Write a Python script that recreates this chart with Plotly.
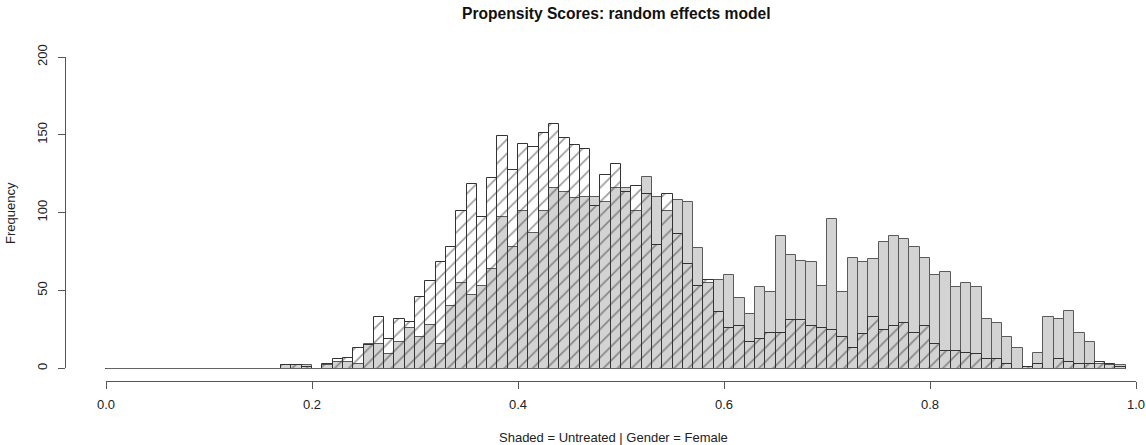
import plotly.graph_objects as go

# Histogram bins: width 0.01, left edges 0.00 .. 0.98
bin_width = 0.01
n_bins = 99
bin_left = [round(i * bin_width, 2) for i in range(n_bins)]

# Shaded histogram (Untreated) counts per bin
untreated = [0] * 17 + [
    2, 2, 2, 0, 2, 4, 4, 3, 16, 16,          # 0.17 - 0.26
    9, 17, 26, 20, 28, 16, 40, 55, 47, 53,   # 0.27 - 0.36
    64, 97, 78, 101, 87, 101, 116, 113, 109, 110,  # 0.37 - 0.46
    110, 107, 116, 116, 101, 123, 110, 101, 108, 107,  # 0.47 - 0.56
    77, 55, 57, 60, 45, 35, 52, 49, 85, 73,  # 0.57 - 0.66
    69, 68, 53, 96, 49, 71, 68, 70, 81, 85,  # 0.67 - 0.76
    83, 78, 71, 60, 62, 52, 55, 52, 32, 29,  # 0.77 - 0.86
    20, 13, 1, 10, 33, 32, 37, 23, 17, 3,    # 0.87 - 0.96
    2, 2,                                    # 0.97 - 0.98
]

# Hatched histogram (Gender = Female) counts per bin
female = [0] * 17 + [
    2, 2, 1, 0, 3, 6, 7, 13, 15, 33,         # 0.17 - 0.26
    19, 32, 30, 46, 56, 68, 78, 101, 118, 97,  # 0.27 - 0.36
    122, 149, 127, 144, 142, 151, 157, 148, 143, 141,  # 0.37 - 0.46
    104, 124, 131, 113, 117, 112, 79, 112, 86, 67,  # 0.47 - 0.56
    53, 57, 36, 26, 27, 17, 19, 23, 23, 31,  # 0.57 - 0.66
    31, 27, 26, 25, 20, 13, 22, 33, 25, 27,  # 0.67 - 0.76
    29, 23, 27, 16, 11, 11, 10, 9, 6, 6,     # 0.77 - 0.86
    3, 0, 1, 3, 0, 6, 4, 3, 3, 4,            # 0.87 - 0.96
    3, 1,                                    # 0.97 - 0.98
]

x_ticks = [0.0, 0.2, 0.4, 0.6, 0.8, 1.0]
x_ticklabels = ["0.0", "0.2", "0.4", "0.6", "0.8", "1.0"]
y_ticks = [0, 50, 100, 150, 200]

title_text = "Propensity Scores: random effects model"
x_title = "Shaded = Untreated | Gender = Female"
y_title = "Frequency"

centers = [b + bin_width / 2 for b in bin_left]
FONT = "Liberation Sans, Arial, Helvetica, sans-serif"
TXT = "#222222"
AX = "#555555"

fig = go.Figure()

# baseline of the histogram across the full break range
fig.add_trace(go.Scatter(
    x=[bin_left[0], bin_left[-1] + bin_width], y=[0, 0],
    mode="lines", line=dict(color="#666666", width=1),
    hoverinfo="skip", showlegend=False,
))

fig.add_trace(go.Bar(
    x=centers, y=untreated, width=bin_width,
    marker=dict(color="#d3d3d3", line=dict(color="#5a5a5a", width=1)),
    name="Untreated", showlegend=False,
))

fig.add_trace(go.Bar(
    x=centers, y=female, width=bin_width,
    marker=dict(
        color="rgba(0,0,0,0)",
        line=dict(color="#333333", width=1),
        pattern=dict(shape="/", fgcolor="#3a3a3a", bgcolor="rgba(0,0,0,0)",
                     size=10, solidity=0.17),
    ),
    name="Female", showlegend=False,
))

# invisible trace to carry the R-style axes
fig.add_trace(go.Scatter(
    x=[None], y=[None], xaxis="x2", yaxis="y2",
    mode="markers", hoverinfo="skip", showlegend=False,
))

W, H = 1146, 445
ml, mr, mt, mb = 65, 0, 44, 64
pw, ph = W - ml - mr, H - mt - mb

def px_to_xpaper(px):
    return (px - ml) / pw

def px_to_ypaper(py):
    return (H - mb - py) / ph

fig.update_layout(
    width=W, height=H, autosize=False,
    margin=dict(l=ml, r=mr, t=mt, b=mb, autoexpand=False),
    paper_bgcolor="white", plot_bgcolor="rgba(0,0,0,0)",
    barmode="overlay", bargap=0,
    font=dict(family=FONT, size=13, color=TXT),
    xaxis=dict(range=[-0.0398, 1.0097], visible=False, domain=[0, 1]),
    yaxis=dict(range=[-8, 208], visible=False, domain=[0, 1]),
    xaxis2=dict(
        domain=[px_to_xpaper(106), px_to_xpaper(1136)], range=[0, 1],
        anchor="free", position=0,
        tickmode="array", tickvals=x_ticks, ticktext=x_ticklabels,
        ticks="outside", ticklen=7, tickcolor=AX, showline=True, linecolor=AX,
        linewidth=1, showgrid=False, zeroline=False,
        tickfont=dict(family=FONT, size=13, color=TXT),
        ticklabelstandoff=4,
    ),
    yaxis2=dict(
        domain=[1 - (368.3 - mt) / ph, 1 - (57 - mt) / ph], range=[0, 200],
        anchor="free", position=0,
        tickmode="array", tickvals=y_ticks, tickangle=-90,
        ticks="outside", ticklen=7, tickcolor=AX, showline=True, linecolor=AX,
        linewidth=1, showgrid=False, zeroline=False,
        tickfont=dict(family=FONT, size=13, color=TXT),
        ticklabelstandoff=6,
    ),
    annotations=[
        dict(text="<b>" + title_text + "</b>", xref="paper", yref="paper",
             x=px_to_xpaper(616), y=px_to_ypaper(13), showarrow=False,
             xanchor="center", yanchor="middle",
             font=dict(family=FONT, size=15.6, color="#111111")),
        dict(text=x_title, xref="paper", yref="paper",
             x=px_to_xpaper(613), y=px_to_ypaper(437), showarrow=False,
             xanchor="center", yanchor="middle",
             font=dict(family=FONT, size=13, color=TXT)),
        dict(text=y_title, xref="paper", yref="paper",
             x=px_to_xpaper(10), y=px_to_ypaper(213), showarrow=False,
             xanchor="center", yanchor="middle", textangle=-90,
             font=dict(family=FONT, size=13, color=TXT)),
    ],
)

fig.write_html("out.html")
